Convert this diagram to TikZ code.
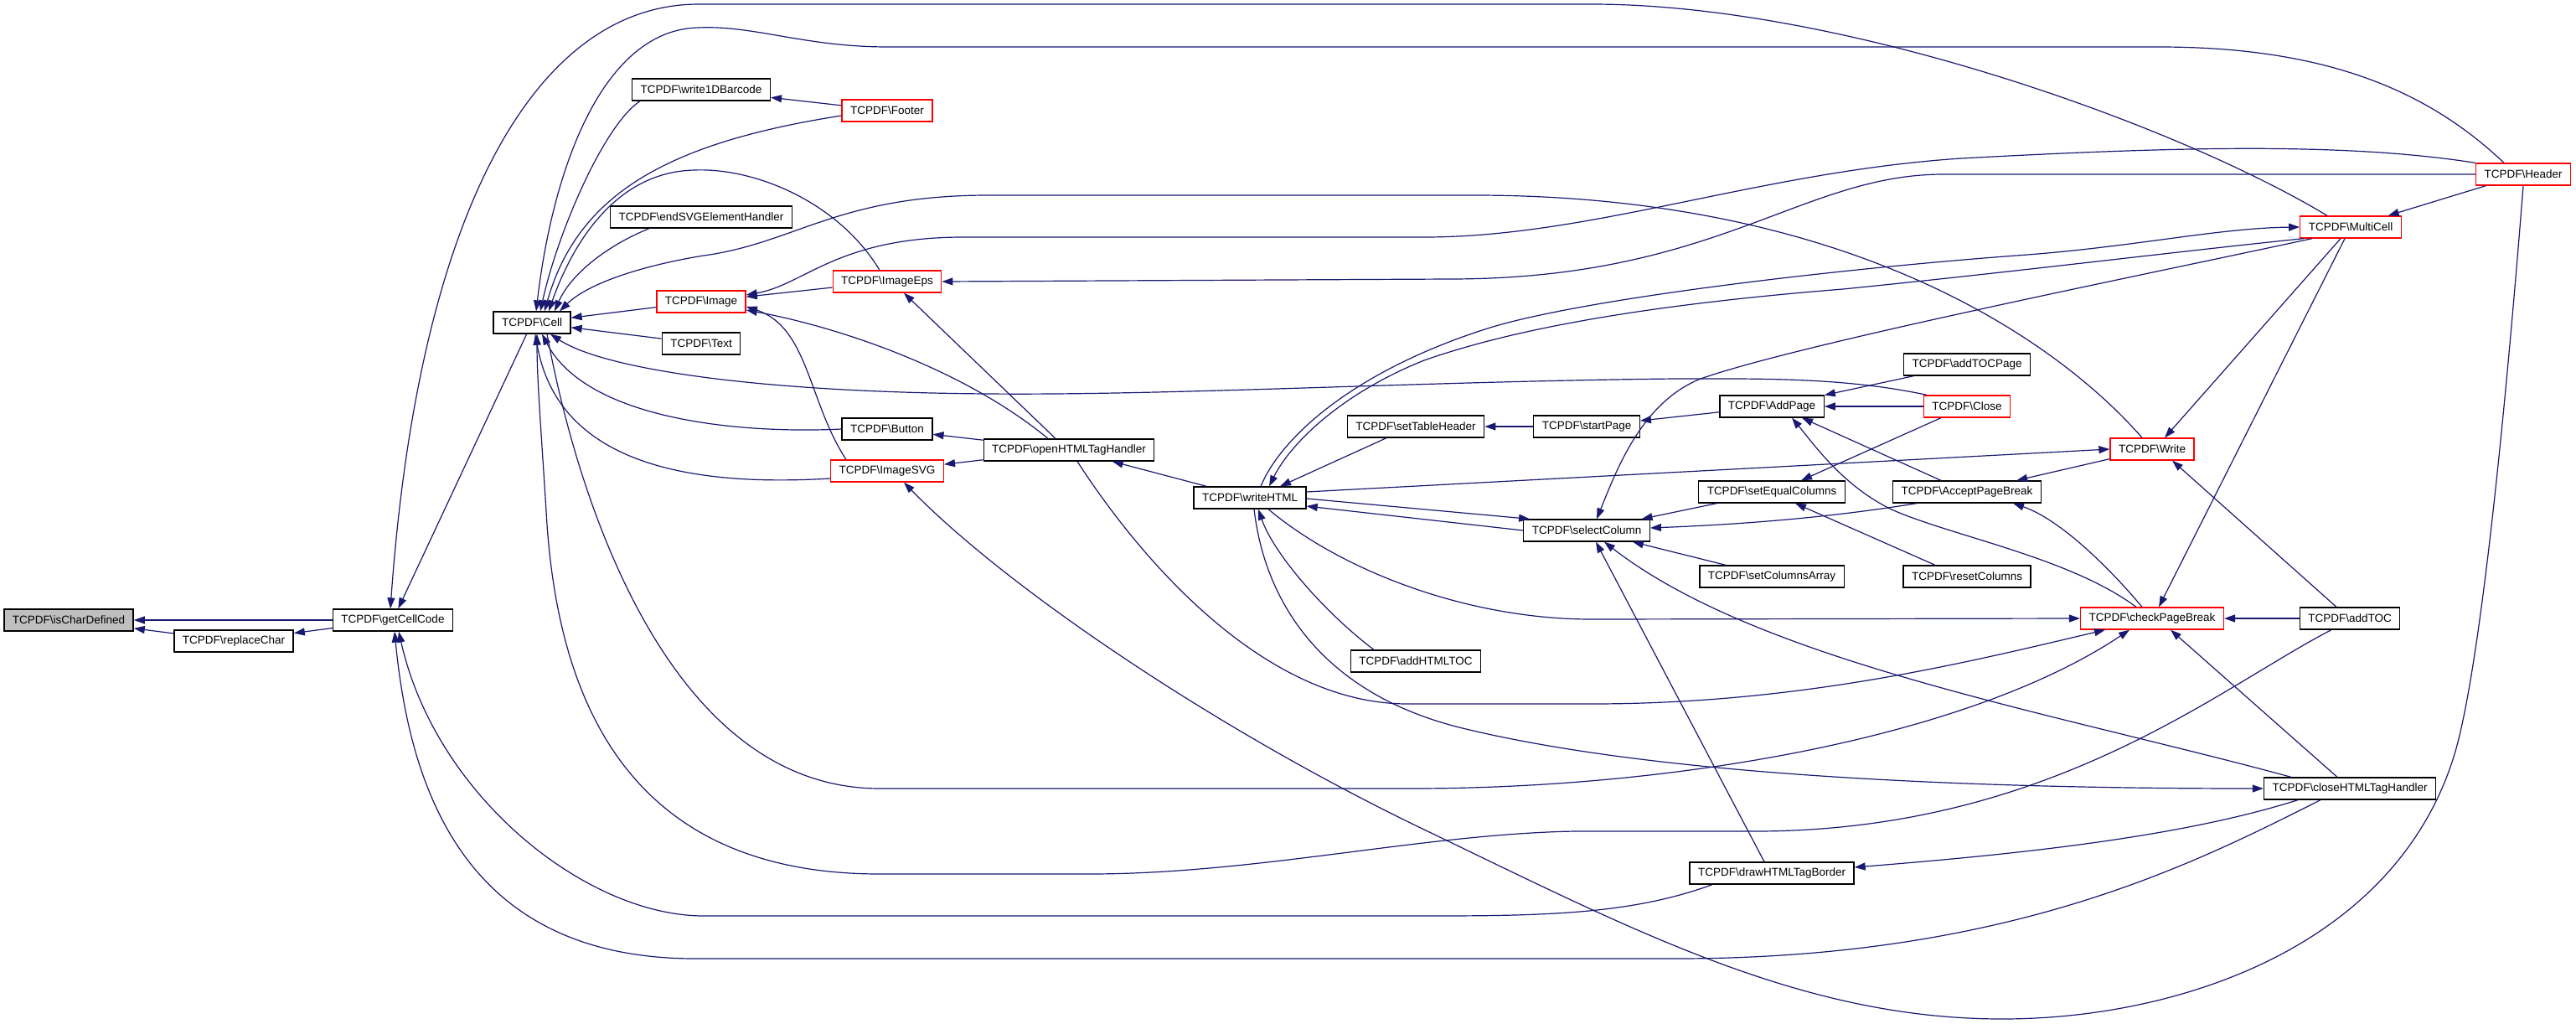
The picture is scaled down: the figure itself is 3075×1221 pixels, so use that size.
\documentclass[tikz,border=0pt]{standalone}
\usepackage{fontspec}
\setmainfont{Liberation Sans}
\usepackage{tikz}
\usetikzlibrary{arrows.meta}
\definecolor{midnight}{RGB}{25,25,112}

\begin{document}
\begin{tikzpicture}[x=1pt, y=-1pt,
    func/.style={
      draw=black, fill=white, line width=1.3pt, minimum height=26pt,
      inner xsep=10pt, inner ysep=0pt, font=\fontsize{13.5}{16}\selectfont
    },
    trunc/.style={func, draw=red},
    root/.style={func, fill=black!25},
    arr/.style={-{Triangle[length=13pt,width=9pt]}, draw=midnight, line width=1.2pt}
  ]
    \useasboundingbox (0,0) rectangle (3075,1221);

    % Functions (columns from left to right)
    \node[root]  (ischar)   at (82,740)   {TCPDF\textbackslash{}isCharDefined};
    \node[func]  (repl)     at (279,765)  {TCPDF\textbackslash{}replaceChar};
    \node[func]  (gcc)      at (469,740)  {TCPDF\textbackslash{}getCellCode};
    \node[func]  (cell)     at (635,385)  {TCPDF\textbackslash{}Cell};
    \node[func]  (w1d)      at (837,107)  {TCPDF\textbackslash{}write1DBarcode};
    \node[func]  (endsvg)   at (837,259)  {TCPDF\textbackslash{}endSVGElementHandler};
    \node[trunc] (image)    at (837,360)  {TCPDF\textbackslash{}Image};
    \node[func]  (txt)      at (837,410)  {TCPDF\textbackslash{}Text};
    \node[trunc] (footer)   at (1059,132) {TCPDF\textbackslash{}Footer};
    \node[trunc] (imgeps)   at (1059,336) {TCPDF\textbackslash{}ImageEps};
    \node[func]  (button)   at (1059,512) {TCPDF\textbackslash{}Button};
    \node[trunc] (imgsvg)   at (1059,562) {TCPDF\textbackslash{}ImageSVG};
    \node[func]  (openh)    at (1276,537) {TCPDF\textbackslash{}openHTMLTagHandler};
    \node[func]  (writeh)   at (1492,594) {TCPDF\textbackslash{}writeHTML};
    \node[func]  (sethead)  at (1690,509) {TCPDF\textbackslash{}setTableHeader};
    \node[func]  (addhtoc)  at (1690,789) {TCPDF\textbackslash{}addHTMLTOC};
    \node[func]  (startp)   at (1894,509) {TCPDF\textbackslash{}startPage};
    \node[func]  (selcol)   at (1894,633) {TCPDF\textbackslash{}selectColumn};
    \node[func]  (addp)     at (2115,485) {TCPDF\textbackslash{}AddPage};
    \node[func]  (seteq)    at (2115,587) {TCPDF\textbackslash{}setEqualColumns};
    \node[func]  (setarr)   at (2115,688) {TCPDF\textbackslash{}setColumnsArray};
    \node[func]  (drawb)    at (2115,1042){TCPDF\textbackslash{}drawHTMLTagBorder};
    \node[func]  (addtocp)  at (2348,435) {TCPDF\textbackslash{}addTOCPage};
    \node[trunc] (closep)   at (2348,485) {TCPDF\textbackslash{}Close};
    \node[func]  (acceptpb) at (2348,587) {TCPDF\textbackslash{}AcceptPageBreak};
    \node[func]  (resetc)   at (2348,688) {TCPDF\textbackslash{}resetColumns};
    \node[trunc] (write)    at (2569,536) {TCPDF\textbackslash{}Write};
    \node[trunc] (checkpb)  at (2569,738) {TCPDF\textbackslash{}checkPageBreak};
    \node[trunc] (multic)   at (2806,271) {TCPDF\textbackslash{}MultiCell};
    \node[func]  (addtoc)   at (2805,738) {TCPDF\textbackslash{}addTOC};
    \node[func]  (closeh)   at (2805,941) {TCPDF\textbackslash{}closeHTMLTagHandler};
    \node[trunc] (header)   at (3012,208) {TCPDF\textbackslash{}Header};

    % getCellCode and isCharDefined
    \draw[arr] (repl) -- (ischar);
    \draw[arr] (gcc.west) -- (ischar.east);
    \draw[arr] (gcc) -- (repl);
    \draw[arr] (cell) -- (gcc);
    \draw[arr] ([xshift=-28pt]multic.north) .. controls (2600,150) and (2200,5) .. (1900,5) -- (834,5)
      .. controls (640,5) and (500,250) .. ([xshift=-3pt]gcc.north);
    \draw[arr] ([xshift=-71pt]drawb.south) .. controls (1950,1090) and (1850,1093) .. (1710,1093) -- (840,1093)
      .. controls (700,1093) and (520,950) .. ([xshift=7pt]gcc.south);
    \draw[arr] ([xshift=-35pt]closeh.south) .. controls (2620,1030) and (2400,1144) .. (2000,1144) -- (830,1144)
      .. controls (560,1144) and (490,950) .. ([xshift=2pt]gcc.south);

    % callers of Cell
    \draw[arr] ([xshift=-73pt]w1d.south) .. controls (720,150) and (665,280) .. ([xshift=10pt]cell.north);
    \draw[arr] (footer) -- (w1d);
    \draw[arr] ([yshift=-6pt]footer.west) .. controls (800,170) and (690,230) .. ([xshift=15pt]cell.north);
    \draw[arr] ([xshift=-62pt]endsvg.south) .. controls (720,295) and (680,330) .. ([xshift=27pt]cell.north);
    \draw[arr] (image) -- (cell);
    \draw[arr] (txt) -- (cell);
    \draw[arr] ([xshift=-9pt]imgeps.north) .. controls (1000,240) and (900,200) .. (829,203)
      .. controls (730,205) and (680,300) .. ([xshift=20pt]cell.north);
    \draw[arr] ([xshift=-23pt]header.north) .. controls (2900,110) and (2780,56) .. (2577,56) -- (1060,56)
      .. controls (960,56) and (900,30) .. (834,33) .. controls (720,35) and (660,200) .. ([xshift=5pt]cell.north);
    \draw[arr] ([xshift=-12pt]write.north) .. controls (2450,400) and (2200,233) .. (1760,233) -- (1180,233)
      .. controls (1000,233) and (950,290) .. (840,305) .. controls (760,318) and (700,340) .. ([xshift=33pt]cell.north);
    \draw[arr] ([xshift=-48pt]closep.north) .. controls (2200,450) and (2100,452) .. (2000,452)
      .. controls (1700,455) and (1400,472) .. (1180,470) .. controls (900,468) and (720,440) .. ([xshift=22pt]cell.south);
    \draw[arr] (button.west) .. controls (880,518) and (700,500) .. ([xshift=12pt]cell.south);
    \draw[arr] ([yshift=-9pt]imgsvg.west) .. controls (760,585) and (660,520) .. ([xshift=4pt]cell.south);
    \draw[arr] ([xshift=-22pt]addtoc.south) .. controls (2650,820) and (2450,990) .. (2100,992) -- (1880,992)
      .. controls (1700,995) and (1500,1043) .. (1300,1043) -- (1050,1043)
      .. controls (760,1043) and (665,850) .. (652,610) .. controls (645,500) and (641,450) .. ([xshift=6pt]cell.south);
    \draw[arr] ([xshift=18pt]cell.south) .. controls (690,600) and (800,941) .. (1050,941) -- (1685,941)
      .. controls (2000,941) and (2350,880) .. ([xshift=-27pt]checkpb.south);

    % callers of Image, ImageEps, ImageSVG
    \draw[arr] (imgeps) -- (image);
    \draw[arr] ([xshift=-49pt]imgsvg.north) .. controls (965,480) and (965,390) .. ([yshift=-6pt]image.east);
    \draw[arr] ([xshift=-25pt]openh.north) .. controls (1150,440) and (1000,390) .. ([yshift=-10pt]image.east);
    \draw[arr] (header.north west) .. controls (2800,170) and (2600,175) .. (2341,189)
      .. controls (2100,205) and (1900,283) .. (1700,283) -- (1150,283)
      .. controls (1000,283) and (960,340) .. ([yshift=8pt]image.east);
    \draw[arr] (header.west) -- (2320,208) .. controls (2150,208) and (2050,333) .. (1730,333) -- (imgeps.east);
    \draw[arr] ([xshift=-16pt]openh.north) -- ([xshift=20pt]imgeps.south);
    \draw[arr] (openh) -- (button);
    \draw[arr] (openh) -- (imgsvg);
    \draw[arr] (header.south) .. controls (2990,500) and (2960,800) .. (2930,900)
      .. controls (2860,1130) and (2600,1216) .. (2390,1216) .. controls (2150,1216) and (1950,1110) .. (1700,990)
      .. controls (1450,870) and (1200,700) .. ([xshift=20pt]imgsvg.south);

    % writeHTML
    \draw[arr] (writeh) -- (openh);
    \draw[arr] ([xshift=10pt]openh.south) .. controls (1350,650) and (1500,840) .. (1680,840) -- (1900,840)
      .. controls (2150,840) and (2350,790) .. ([xshift=-56pt]checkpb.south);
    \draw[arr] ([xshift=-35pt]sethead.south) -- ([xshift=36pt]writeh.north);
    \draw[arr] ([xshift=-50pt]addhtoc.north) .. controls (1580,730) and (1520,660) .. ([xshift=10pt]writeh.south);
    \draw[arr] (selcol.west) -- ([yshift=-10pt]writeh.east);
    \draw[arr] ([yshift=-1pt]writeh.east) -- ([xshift=8pt]selcol.north west);
    \draw[arr] ([xshift=-56pt]multic.south) .. controls (2600,300) and (2400,325) .. (2200,345)
      .. controls (1950,365) and (1800,395) .. (1700,430) .. controls (1600,470) and (1540,530) .. ([xshift=23pt]writeh.north);
    \draw[arr] ([xshift=13pt]writeh.north) .. controls (1530,520) and (1620,440) .. (1782,390)
      .. controls (1900,355) and (2200,320) .. (2420,304) .. controls (2550,294) and (2650,272) .. (multic.west);
    \draw[arr] ([yshift=7pt]writeh.east) -- (write.west);
    \draw[arr] ([xshift=22pt]writeh.south) .. controls (1600,680) and (1750,739) .. (1900,739) -- (checkpb.west);
    \draw[arr] ([xshift=5pt]writeh.south) .. controls (1510,720) and (1580,830) .. (1750,870)
      .. controls (2000,930) and (2400,941) .. (closeh.west);

    % AddPage and columns
    \draw[arr] (startp.west) -- (sethead.east);
    \draw[arr] (addp) -- (startp);
    \draw[arr] (addtocp) -- (addp);
    \draw[arr] (closep.west) -- (addp.east);
    \draw[arr] ([xshift=-31pt]acceptpb.north) -- ([xshift=36pt]addp.south);
    \draw[arr] ([xshift=-19pt]checkpb.north) .. controls (2470,665) and (2330,640) .. (2258,608)
      .. controls (2200,580) and (2165,530) .. ([xshift=24pt]addp.south);
    \draw[arr] ([xshift=-31pt]closep.south) -- ([xshift=35pt]seteq.north);
    \draw[arr] ([xshift=-38pt]resetc.north) -- ([xshift=28pt]seteq.south);
    \draw[arr] (seteq) -- (selcol);
    \draw[arr] (setarr) -- (selcol);
    \draw[arr] ([xshift=-60pt]acceptpb.south) .. controls (2200,615) and (2100,625) .. ([yshift=3pt]selcol.east);
    \draw[arr] ([xshift=-46pt]multic.south) .. controls (2550,330) and (2150,410) .. (2030,452)
      .. controls (1960,480) and (1930,560) .. ([xshift=12pt]selcol.north);
    \draw[arr] ([xshift=-70pt]closeh.north) .. controls (2450,850) and (2100,790) .. ([xshift=21pt]selcol.south);
    \draw[arr] ([xshift=-9pt]drawb.north) -- ([xshift=11pt]selcol.south);

    % Write, checkPageBreak, MultiCell
    \draw[arr] (write) -- (acceptpb);
    \draw[arr] ([xshift=-12pt]checkpb.north) .. controls (2520,680) and (2460,620) .. ([xshift=55pt]acceptpb.south);
    \draw[arr] ([xshift=-12pt]multic.south) -- ([xshift=15pt]write.north);
    \draw[arr] ([xshift=-16pt]addtoc.north) -- ([xshift=24pt]write.south);
    \draw[arr] (header) -- (multic);
    \draw[arr] ([xshift=-7pt]multic.south) -- ([xshift=8pt]checkpb.north);
    \draw[arr] (addtoc.west) -- (checkpb.east);
    \draw[arr] ([xshift=-15pt]closeh.north) -- ([xshift=22pt]checkpb.south);
    \draw[arr] ([xshift=-62pt]closeh.south) .. controls (2600,1000) and (2400,1020) .. ([yshift=7pt]drawb.east);
  \end{tikzpicture}
\end{document}
